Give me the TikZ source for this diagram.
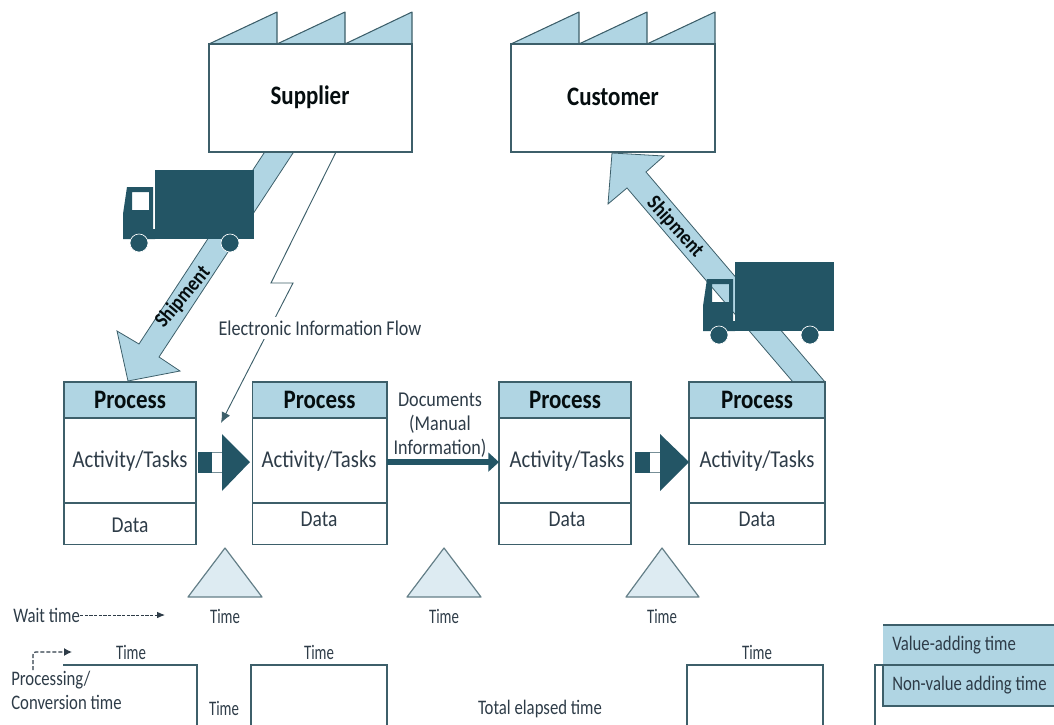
\documentclass[tikz,border=0pt]{standalone}
\usepackage{fontspec}
\setmainfont[FakeStretch=0.86]{Carlito}
\newfontfamily\narrowfont[FakeStretch=0.81]{Carlito}
\newfontfamily\timefont[FakeStretch=0.72]{Carlito}
\usetikzlibrary{arrows.meta}
\definecolor{lightblue}{HTML}{B0D5E3}
\definecolor{paleblue}{HTML}{DDEBF2}
\definecolor{darkteal}{HTML}{235565}
\definecolor{edgeteal}{HTML}{3D5F6A}
\definecolor{inkgrey}{HTML}{2E3C48}
\tikzset{
  lbl/.style={inner sep=0pt, text=inkgrey, font=\fontsize{15.8pt}{18pt}\selectfont},
  lowlbl/.style={inner sep=0pt, text=inkgrey, font=\narrowfont\fontsize{15.5pt}{18pt}\selectfont},
  timelbl/.style={inner sep=0pt, text=inkgrey, font=\timefont\fontsize{15.5pt}{18pt}\selectfont},
  biglbl/.style={inner sep=0pt, text=inkgrey, font=\fontsize{18.1pt}{20pt}\selectfont},
  datalbl/.style={inner sep=0pt, text=inkgrey, font=\fontsize{17pt}{20pt}\selectfont},
  boldlbl/.style={inner sep=0pt, text=black!85!darkteal, font=\fontsize{20pt}{22pt}\selectfont\bfseries},
  shiplbl/.style={inner sep=0pt, text=black!85!darkteal, font=\fontsize{16pt}{18pt}\selectfont\bfseries},
  headbox/.style={draw=edgeteal, line width=1pt, fill=lightblue, outer sep=0pt, minimum height=27pt},
  taskbox/.style={draw=edgeteal, line width=1pt, fill=white, outer sep=0pt, minimum height=64pt},
  databox/.style={draw=edgeteal, line width=1pt, fill=white, outer sep=0pt, minimum height=31pt},
  wall/.style={draw=edgeteal, line width=.8pt, fill=white},
  roof/.style={draw=edgeteal, line width=.8pt, fill=lightblue, line join=round},
  shiparrow/.style={draw=edgeteal, line width=.6pt, fill=lightblue, line join=miter},
  timeline/.style={draw=edgeteal, line width=1pt},
  waittri/.style={draw=edgeteal!80, line width=.9pt, fill=paleblue, line join=round},
  truck/.pic={
    \fill[darkteal] (0,-69) rectangle (99,0);
    \fill[darkteal, even odd rule] (-32,0) -- (-32,-25) -- (-28,-52) -- (-2,-52) -- (-2,-10) -- (0,-10) -- (0,0) -- cycle
      (-23,-47) rectangle (-6,-29);
    \draw[fill=darkteal, draw=white, line width=.5pt] (-16,4) circle (9);
    \draw[fill=darkteal, draw=white, line width=.5pt] (75,4) circle (9);
  }
}
\begin{document}
\begin{tikzpicture}[>=latex, x=0.75pt, y=-0.75pt]
\useasboundingbox (0,0) rectangle (1054,725);

% shipment arrows
\draw[shiparrow] (266,150) -- (139,344) -- (117,331) -- (128,381) -- (180,371) -- (159,357) -- (295,150) -- cycle;
\draw[shiparrow] (825,382) -- (646,172) -- (664,156) -- (612,153) -- (608,204) -- (627,188) -- (793,382) -- cycle;

% factories
\draw[roof] (209,44) -- (277,12) -- (277,44) -- (345,12) -- (345,44) -- (412,12) -- (412,44) -- cycle;
\draw[wall] (209,44) rectangle (412,152);
\node[boldlbl] (supplier) at (310,97) {Supplier};
\draw[roof] (511,44) -- (579,12) -- (579,44) -- (647,12) -- (647,44) -- (715,12) -- (715,44) -- cycle;
\draw[wall] (511,44) rectangle (715,152);
\node[boldlbl] (customer) at (613,97) {Customer};

\pic at (155,239) {truck};
\pic at (735,331) {truck};
\node[shiplbl, rotate=50] (ship1) at (183,297) {Shipment};
\node[shiplbl, rotate=-47.5] (ship2) at (675,227) {Shipment};

% process boxes
\node[headbox, minimum width=99pt] (head1) at (130,400) {};
\node[taskbox, minimum width=99pt] (task1) at (130,460.5) {};
\node[databox, minimum width=99pt] (dbox1) at (130,523.5) {};
\node[headbox, minimum width=101pt] (head2) at (319.5,400) {};
\node[taskbox, minimum width=101pt] (task2) at (319.5,460.5) {};
\node[databox, minimum width=101pt] (dbox2) at (319.5,523.5) {};
\node[headbox, minimum width=99pt] (head3) at (565,400) {};
\node[taskbox, minimum width=99pt] (task3) at (565,460.5) {};
\node[databox, minimum width=99pt] (dbox3) at (565,523.5) {};
\node[headbox, minimum width=102pt] (head4) at (757,400) {};
\node[taskbox, minimum width=102pt] (task4) at (757,460.5) {};
\node[databox, minimum width=102pt] (dbox4) at (757,523.5) {};

\node[boldlbl] at (head1) {Process};
\node[boldlbl] at (head2) {Process};
\node[boldlbl] at (head3) {Process};
\node[boldlbl] at (head4) {Process};
\node[biglbl] (act1) at (130,461) {Activity/Tasks};
\node[biglbl] (act2) at (319,461) {Activity/Tasks};
\node[biglbl] (act3) at (567,461) {Activity/Tasks};
\node[biglbl] (act4) at (757,461) {Activity/Tasks};
\node[datalbl] (data1) at (130,525) {Data};
\node[datalbl] (data2) at (319,519) {Data};
\node[datalbl] (data3) at (567,519) {Data};
\node[datalbl] (data4) at (757,519) {Data};

% push arrows
\fill[darkteal] (198,452) rectangle (212,473);
\draw[edgeteal!70, line width=.8pt] (212,452.5) -- (222,452.5) (212,472.5) -- (222,472.5);
\fill[darkteal] (222,434) -- (250,462) -- (222,491) -- cycle;
\fill[darkteal] (635,452) rectangle (650,473);
\draw[edgeteal!70, line width=.8pt] (650,452.5) -- (660,452.5) (650,472.5) -- (660,472.5);
\fill[darkteal] (660,434) -- (689,462) -- (660,491) -- cycle;

% manual flow
\draw[darkteal, line width=4.5pt, -{Triangle[length=8pt,width=14pt]}] ([yshift=-1.2pt]task2.east) -- ([yshift=-1.2pt]task3.west);
\node[lbl, align=center] (docs) at (440,425) {Documents\\(Manual\\Information)};

% electronic flow
\coordinate (ebot) at (336,152);
\coordinate (ekink1) at (271,283);
\coordinate (ekink2) at (293,283);
\coordinate (etip) at (221,423);
\draw[edgeteal, line width=.7pt, -{Latex[length=8pt,width=7pt]}] (ebot) -- (ekink1) -- (ekink2) -- (etip);
\node[lbl, fill=white, inner xsep=0pt, inner ysep=3pt] (eflow) at (320,328) {Electronic Information Flow};

% wait triangles
\draw[waittri] (225,548) -- (262,597) -- (188,597) -- cycle;
\draw[waittri] (444,548) -- (481,597) -- (407,597) -- cycle;
\draw[waittri] (662,548) -- (699,597) -- (626,597) -- cycle;
\node[timelbl] (time1) at (225,616) {Time};
\node[timelbl] (time2) at (444,616) {Time};
\node[timelbl] (time3) at (662,616) {Time};

% time line
\node[lowlbl, anchor=west] (waitlbl) at (13,615) {Wait time};
\coordinate (waitend) at (165,615);
\draw[inkgrey, line width=.7pt, dash pattern=on 2.5pt off 1pt, -{Latex[length=6pt,width=5pt]}] (waitlbl.east) -- (waitend);
\node[lowlbl, anchor=north west, align=left] (proc) at (11,671) {Processing/\\Conversion time};
\coordinate (procup) at (33,670);
\coordinate (procend) at (72,652);
\draw[inkgrey, line width=.9pt, dash pattern=on 3pt off 1.5pt, -{Latex[length=6pt,width=6pt]}, rounded corners=2pt] (procup) |- (procend);
\draw[timeline] (63,665) -- (197,665) -- (197,725);
\draw[timeline] (251,725) -- (251,665) -- (387,665) -- (387,725);
\draw[timeline] (687,725) -- (687,665) -- (823,665) -- (823,725);
\draw[timeline] (875,725) -- (875,665) -- (883,665);
\node[timelbl] (time4) at (131,652) {Time};
\node[timelbl] (time5) at (319,652) {Time};
\node[timelbl] (time6) at (757,652) {Time};
\node[timelbl] (time7) at (224,708) {Time};
\node[lowlbl] (total) at (540,709) {Total elapsed time};

% legend
\fill[lightblue] (883,625) rectangle (1054,665);
\draw[timeline] (883,625) -- (1054,625);
\draw[timeline, fill=lightblue] (883,665) rectangle (1060,706);
\node[lowlbl, anchor=west] (vatime) at (892,645) {Value-adding time};
\node[lowlbl, anchor=west] (nvtime) at (892,685) {Non-value adding time};
\end{tikzpicture}
\end{document}
